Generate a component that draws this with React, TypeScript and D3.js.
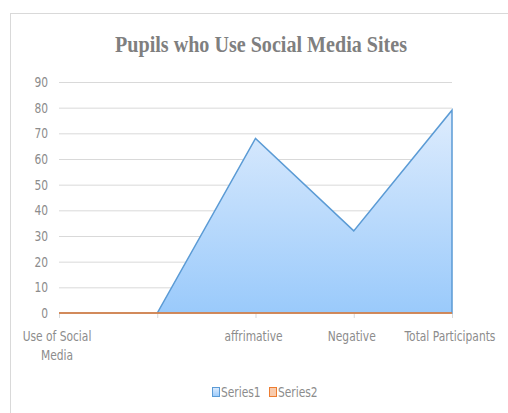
import React, { useEffect, useRef } from "react";
import * as d3 from "d3";

const categories = ["Use of Social Media", "", "affrimative", "Negative", "Total Participants"];
const series1 = [0, 0, 68, 32, 79];
const series2 = [0, 0, 0, 0, 0];
const yTicks = [0, 10, 20, 30, 40, 50, 60, 70, 80, 90];
const seriesNames = ["Series1", "Series2"];

const W = 508;
const H = 413;
const FONT = "'DejaVu Sans Condensed', 'Liberation Sans Narrow', sans-serif";
const SX = 0.88; // squeeze text horizontally to mimic the narrow font

export default function App() {
  const ref = useRef<SVGSVGElement>(null);

  useEffect(() => {
    document.body.style.margin = "0";
    const svg = d3.select(ref.current);
    svg.selectAll("*").remove();

    const x = d3.scalePoint<number>().domain(d3.range(categories.length)).range([59, 452]);
    const y = d3.scaleLinear().domain([0, 90]).range([313, 82]);

    const defs = svg.append("defs");
    const grad = defs.append("linearGradient")
      .attr("id", "blueFill").attr("x1", 0).attr("y1", 0).attr("x2", 0).attr("y2", 1);
    grad.append("stop").attr("offset", "0%").attr("stop-color", "#deecfd");
    grad.append("stop").attr("offset", "100%").attr("stop-color", "#9acafb");

    // small helper: narrow text placed at (tx, ty)
    const label = (g: any, tx: number, ty: number, s: string, anchor: string) =>
      g.append("text")
        .attr("transform", `translate(${tx},${ty}) scale(${SX},1)`)
        .attr("text-anchor", anchor)
        .attr("font-family", FONT).attr("font-size", 13.5)
        .attr("fill", "#8c8c8c")
        .text(s);

    // outer frame (cropped on right and bottom)
    svg.append("rect")
      .attr("x", 10.5).attr("y", 13.5)
      .attr("width", 520).attr("height", 420)
      .attr("fill", "white").attr("stroke", "#d9d9d9");

    // title
    svg.append("text")
      .attr("x", 115).attr("y", 52)
      .attr("font-family", "'Liberation Serif', serif")
      .attr("font-weight", "bold")
      .attr("font-size", 23.5)
      .attr("fill", "#7f7f7f")
      .attr("textLength", 292)
      .attr("lengthAdjust", "spacingAndGlyphs")
      .text("Pupils who Use Social Media Sites");

    // gridlines
    svg.append("g").selectAll("line").data(yTicks.filter(d => d > 0)).enter()
      .append("line")
      .attr("x1", x(0)!).attr("x2", x(categories.length - 1)!)
      .attr("y1", d => y(d) + 0.5).attr("y2", d => y(d) + 0.5)
      .attr("stroke", "#d9d9d9").attr("stroke-width", 1);

    // y labels
    const yl = svg.append("g");
    yTicks.forEach(d => label(yl, 48, y(d) + 5, String(d), "end"));

    // x ticks
    svg.append("g").selectAll("line").data(d3.range(categories.length)).enter()
      .append("line")
      .attr("x1", d => x(d)! + 0.5).attr("x2", d => x(d)! + 0.5)
      .attr("y1", y(0)).attr("y2", y(0) + 5)
      .attr("stroke", "#d9d9d9");

    // Series1 area
    const area = d3.area<number>()
      .x((_, i) => x(i)!)
      .y0(y(0))
      .y1(d => y(d));
    svg.append("path")
      .datum(series1)
      .attr("d", area)
      .attr("fill", "url(#blueFill)")
      .attr("stroke", "#5b9bd5")
      .attr("stroke-width", 1.5)
      .attr("stroke-linejoin", "miter");

    // Series2 (all zero, shows as a line on the baseline)
    svg.append("path")
      .datum(series2)
      .attr("d", area)
      .attr("fill", "#f4b183")
      .attr("stroke", "#ed7d31")
      .attr("stroke-width", 1.5);

    // x labels
    const xl = svg.append("g");
    categories.forEach((c, i) => {
      if (!c) return;
      if (c === "Use of Social Media") {
        label(xl, x(i)! - 2, 341, "Use of Social", "middle");
        label(xl, x(i)! - 2, 360, "Media", "middle");
      } else {
        label(xl, x(i)! - 2, 341, c, "middle");
      }
    });

    // legend
    const legend = svg.append("g");
    const lx = [212, 269];
    seriesNames.forEach((s, i) => {
      legend.append("rect")
        .attr("x", lx[i] + 0.5).attr("y", 387.5)
        .attr("width", 7).attr("height", 9)
        .attr("fill", i === 0 ? "url(#blueFill)" : "#f8cbad")
        .attr("stroke", i === 0 ? "#5b9bd5" : "#ed7d31");
      label(legend, lx[i] + 9, 397, s, "start");
    });
  }, []);

  return <svg ref={ref} width={W} height={H} style={{ display: "block" }} />;
}
